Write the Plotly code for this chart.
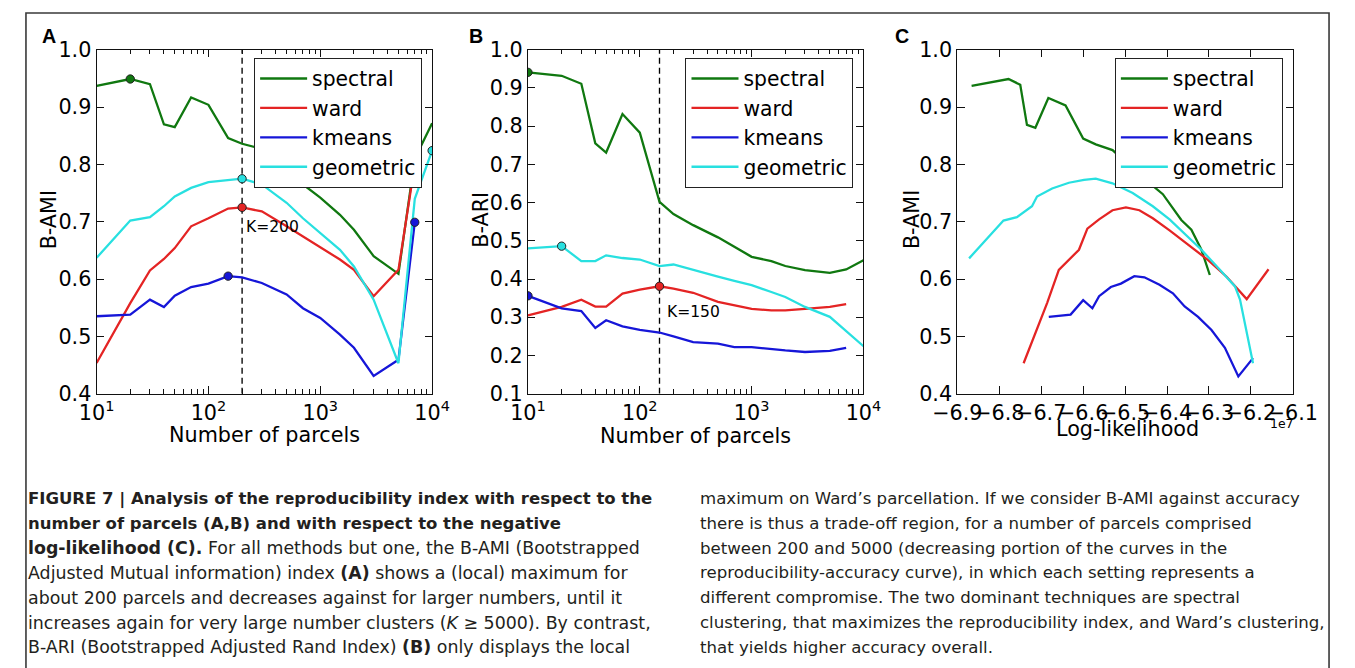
import math
import plotly.graph_objects as go

W, H = 1355, 668

# ---------------- data ----------------
K = [10, 20, 30, 40, 50, 70, 100, 150, 200, 300, 500, 700, 1000, 1500, 2000, 3000, 5000, 7000, 10000]

# Panel A : B-AMI vs number of parcels
A_spectral = [0.937, 0.949, 0.940, 0.870, 0.865, 0.917, 0.904, 0.846, 0.836, 0.827, 0.808, 0.765, 0.742, 0.712, 0.686, 0.640, 0.609, 0.810, 0.872]
A_ward = [0.4535, 0.558, 0.615, 0.635, 0.654, 0.692, 0.706, 0.723, 0.725, 0.718, 0.692, 0.674, 0.656, 0.634, 0.616, 0.570, 0.616, 0.800, None]
A_kmeans = [0.535, 0.538, 0.564, 0.551, 0.571, 0.586, 0.592, 0.605, 0.603, 0.593, 0.573, 0.549, 0.532, 0.503, 0.480, 0.431, 0.459, 0.699, None]
A_geometric = [0.637, 0.702, 0.708, 0.727, 0.744, 0.759, 0.769, 0.773, 0.775, 0.765, 0.733, 0.706, 0.680, 0.651, 0.622, 0.564, 0.453, 0.740, 0.824]

# Panel B : B-ARI vs number of parcels
B_spectral = [0.941, 0.932, 0.911, 0.755, 0.731, 0.832, 0.783, 0.602, 0.570, 0.541, 0.509, 0.484, 0.458, 0.447, 0.434, 0.423, 0.416, 0.425, 0.449]
B_ward = [0.305, 0.327, 0.346, 0.328, 0.328, 0.362, 0.372, 0.381, 0.375, 0.364, 0.340, 0.331, 0.322, 0.318, 0.318, 0.322, 0.327, 0.334, None]
B_kmeans = [0.356, 0.323, 0.316, 0.272, 0.292, 0.276, 0.267, 0.260, 0.250, 0.235, 0.231, 0.222, 0.222, 0.216, 0.213, 0.209, 0.212, 0.220, None]
B_geometric = [0.480, 0.486, 0.447, 0.447, 0.462, 0.455, 0.451, 0.434, 0.438, 0.423, 0.406, 0.395, 0.384, 0.366, 0.353, 0.327, 0.301, None, 0.224]

# highlighted (maximum) points, as numbers of parcels
A_spectral_marks = [20]
A_ward_marks = [200, 7000]
A_kmeans_marks = [150, 7000]
A_geometric_marks = [200, 10000]
B_spectral_marks = [10]
B_ward_marks = [150]
B_kmeans_marks = [10]
B_geometric_marks = [20]

K_LINE_A = 200
K_LINE_B = 150

# Panel C : B-AMI vs log-likelihood (units of 1e7)
C_spectral_x = [-6.866, -6.778, -6.750, -6.734, -6.714, -6.683, -6.642, -6.600, -6.570, -6.530, -6.446, -6.410, -6.366, -6.342, -6.318, -6.298]
C_spectral_y = [0.937, 0.949, 0.939, 0.869, 0.864, 0.916, 0.903, 0.845, 0.835, 0.825, 0.770, 0.748, 0.703, 0.686, 0.651, 0.607]
C_ward_x = [-6.742, -6.686, -6.658, -6.634, -6.610, -6.590, -6.562, -6.530, -6.498, -6.466, -6.434, -6.394, -6.354, -6.302, -6.258, -6.210, -6.158]
C_ward_y = [0.453, 0.558, 0.616, 0.633, 0.651, 0.688, 0.704, 0.720, 0.725, 0.720, 0.706, 0.685, 0.662, 0.633, 0.604, 0.565, 0.617]
C_kmeans_x = [-6.682, -6.630, -6.600, -6.578, -6.562, -6.534, -6.510, -6.478, -6.454, -6.418, -6.386, -6.358, -6.326, -6.294, -6.262, -6.230, -6.195]
C_kmeans_y = [0.534, 0.538, 0.563, 0.549, 0.570, 0.586, 0.592, 0.605, 0.603, 0.590, 0.575, 0.552, 0.534, 0.511, 0.480, 0.430, 0.462]
C_geometric_x = [-6.872, -6.790, -6.758, -6.722, -6.710, -6.674, -6.634, -6.598, -6.570, -6.530, -6.482, -6.434, -6.394, -6.354, -6.318, -6.274, -6.238, -6.226, -6.195]
C_geometric_y = [0.636, 0.702, 0.708, 0.727, 0.744, 0.758, 0.768, 0.773, 0.775, 0.767, 0.750, 0.727, 0.704, 0.677, 0.651, 0.616, 0.587, 0.564, 0.453]

METHODS = ["spectral", "ward", "kmeans", "geometric"]
COLORS = {"spectral": "#107810", "ward": "#e42424", "kmeans": "#1616d8", "geometric": "#28e0e0"}

X_TICKS_LOG = [10, 100, 1000, 10000]
X_TICKTEXT_LOG = ["10<sup>1</sup>", "10<sup>2</sup>", "10<sup>3</sup>", "10<sup>4</sup>"]
X_MINOR_LOG = [m * d for d in (1, 10, 100, 1000) for m in range(2, 10)]
X_TICKS_C = [-6.9, -6.8, -6.7, -6.6, -6.5, -6.4, -6.3, -6.2, -6.1]
Y_TICKS_A = [0.4, 0.5, 0.6, 0.7, 0.8, 0.9, 1.0]
Y_TICKS_B = [0.1, 0.2, 0.3, 0.4, 0.5, 0.6, 0.7, 0.8, 0.9, 1.0]

CAPTION_TITLE = [
    "<b>FIGURE 7 | Analysis of the reproducibility index with respect to the</b>",
    "<b>number of parcels (A,B) and with respect to the negative</b>",
]
CAPTION_LEFT = [
    "<b>log-likelihood (C).</b> For all methods but one, the B-AMI (Bootstrapped",
    "Adjusted Mutual information) index <b>(A)</b> shows a (local) maximum for",
    "about 200 parcels and decreases against for larger numbers, until it",
    "increases again for very large number clusters (<i>K</i> ≥ 5000). By contrast,",
    "B-ARI (Bootstrapped Adjusted Rand Index) <b>(B)</b> only displays the local",
]
CAPTION_RIGHT = [
    "maximum on Ward’s parcellation. If we consider B-AMI against accuracy",
    "there is thus a trade-off region, for a number of parcels comprised",
    "between 200 and 5000 (decreasing portion of the curves in the",
    "reproducibility-accuracy curve), in which each setting represents a",
    "different compromise. The two dominant techniques are spectral",
    "clustering, that maximizes the reproducibility index, and Ward’s clustering,",
    "that yields higher accuracy overall.",
]

# ---------------- placement helpers ----------------
# the photographed page is shrunk slightly and centred; positions below are
# given in target-picture pixels and mapped back to page coordinates.
S = 0.9645
OX, OY = 24.3, 12.2
F = 1 / S


def px(x):
    return (x - OX) / S / W


def py(y):
    return 1 - (y - OY) / S / H


FONT = "DejaVu Sans"
LINE_W = 2.2 * F

fig = go.Figure()

panels = [
    ("x", "y", "legend", {"spectral": A_spectral, "ward": A_ward, "kmeans": A_kmeans, "geometric": A_geometric},
     {"spectral": A_spectral_marks, "ward": A_ward_marks, "kmeans": A_kmeans_marks, "geometric": A_geometric_marks},
     K_LINE_A, (0.4, 1.0)),
    ("x2", "y2", "legend2", {"spectral": B_spectral, "ward": B_ward, "kmeans": B_kmeans, "geometric": B_geometric},
     {"spectral": B_spectral_marks, "ward": B_ward_marks, "kmeans": B_kmeans_marks, "geometric": B_geometric_marks},
     K_LINE_B, (0.1, 1.0)),
]

for xa, ya, leg, series, marks, kline, yr in panels:
    fig.add_trace(go.Scatter(x=[kline, kline], y=[yr[0], yr[1]], mode="lines", xaxis=xa, yaxis=ya,
                             line=dict(color="black", width=1.3 * F, dash="6px,4px"), showlegend=False,
                             hoverinfo="skip"))
    for m in METHODS:
        fig.add_trace(go.Scatter(x=K, y=series[m], mode="lines", name=m, xaxis=xa, yaxis=ya,
                                 line=dict(color=COLORS[m], width=LINE_W), connectgaps=True,
                                 legend=leg, legendgroup=leg + m))
    for m in METHODS:
        mx = marks[m]
        my = [series[m][K.index(k)] for k in mx]
        fig.add_trace(go.Scatter(x=mx, y=my, mode="markers", xaxis=xa, yaxis=ya, showlegend=False,
                                 marker=dict(color=COLORS[m], size=8 * F, line=dict(color="#222", width=1)),
                                 hoverinfo="skip"))

C_series = {"spectral": (C_spectral_x, C_spectral_y), "ward": (C_ward_x, C_ward_y),
            "kmeans": (C_kmeans_x, C_kmeans_y), "geometric": (C_geometric_x, C_geometric_y)}
for m in METHODS:
    cx, cy = C_series[m]
    fig.add_trace(go.Scatter(x=cx, y=cy, mode="lines", name=m, xaxis="x3", yaxis="y3",
                             line=dict(color=COLORS[m], width=LINE_W), legend="legend3",
                             legendgroup="legend3" + m))

axis_common = dict(showline=True, linecolor="#111", linewidth=1.1, mirror="ticks", ticks="inside",
                   ticklen=7 * F, tickwidth=1, tickcolor="#111", showgrid=False, zeroline=False,
                   tickfont=dict(family=FONT, size=20 * F, color="black"), tickangle=0)
minor_log = dict(tickmode="array", tickvals=X_MINOR_LOG, ticks="inside", ticklen=4 * F, tickcolor="#111",
                 showgrid=False)

ydom = [py(394), py(50)]
layout = dict(
    width=W, height=H, margin=dict(l=0, r=0, t=0, b=0),
    paper_bgcolor="white", plot_bgcolor="white",
    xaxis=dict(domain=[px(96), px(432)], anchor="y", type="log", range=[1, 4],
               tickmode="array", tickvals=X_TICKS_LOG, ticktext=X_TICKTEXT_LOG, minor=minor_log, **axis_common),
    yaxis=dict(domain=ydom, anchor="x", range=[0.4, 1.0], tickmode="array", tickvals=Y_TICKS_A,
               tickformat=".1f", **axis_common),
    xaxis2=dict(domain=[px(528), px(864)], anchor="y2", type="log", range=[1, 4],
                tickmode="array", tickvals=X_TICKS_LOG, ticktext=X_TICKTEXT_LOG, minor=minor_log, **axis_common),
    yaxis2=dict(domain=ydom, anchor="x2", range=[0.1, 1.0], tickmode="array", tickvals=Y_TICKS_B,
                tickformat=".1f", **axis_common),
    xaxis3=dict(domain=[px(958), px(1294)], anchor="y3", range=[-6.9, -6.1], tickmode="array",
                tickvals=X_TICKS_C, tickformat=".1f", **axis_common),
    yaxis3=dict(domain=ydom, anchor="x3", range=[0.4, 1.0], tickmode="array", tickvals=Y_TICKS_A,
                tickformat=".1f", **axis_common),
    showlegend=True,
)
leg_common = dict(font=dict(family=FONT, size=19.6 * F, color="black"), bgcolor="white", bordercolor="#222",
                  borderwidth=1, xanchor="right", yanchor="top", traceorder="grouped", tracegroupgap=0,
                  itemwidth=47)
layout["legend"] = dict(x=px(422), y=py(58), **leg_common)
layout["legend2"] = dict(x=px(854), y=py(58), **leg_common)
layout["legend3"] = dict(x=px(1284), y=py(58), **leg_common)
fig.update_layout(**layout)

ann = []
tf = dict(family=FONT, size=20 * F, color="black")
ann.append(dict(text="Number of parcels", x=px(264), y=py(435), font=tf))
ann.append(dict(text="Number of parcels", x=px(696), y=py(436), font=tf))
ann.append(dict(text="Log-likelihood", x=px(1128), y=py(429), font=tf))
ann.append(dict(text="B-AMI", x=px(48), y=py(220), font=tf, textangle=-90))
ann.append(dict(text="B-ARI", x=px(481), y=py(220), font=tf, textangle=-90))
ann.append(dict(text="B-AMI", x=px(912), y=py(220), font=tf, textangle=-90))
ann.append(dict(text="1e7", x=px(1283), y=py(424), font=dict(family=FONT, size=12 * F, color="black")))
for letter, xx in (("A", 48), ("B", 476), ("C", 903)):
    ann.append(dict(text="<b>%s</b>" % letter, x=px(xx), y=py(36),
                    font=dict(family="Liberation Sans", size=19 * F, color="black")))
for a in ann:
    a.update(xref="paper", yref="paper", showarrow=False, xanchor="center", yanchor="middle")

ann.append(dict(text="K=%d" % K_LINE_A, x=math.log10(K_LINE_A), y=0.69, xref="x", yref="y", showarrow=False,
                xanchor="left", yanchor="middle", xshift=2 * F, font=dict(family=FONT, size=15 * F, color="black")))
ann.append(dict(text="K=%d" % K_LINE_B, x=math.log10(K_LINE_B), y=0.314, xref="x2", yref="y2", showarrow=False,
                xanchor="left", yanchor="middle", xshift=5 * F, font=dict(family=FONT, size=15 * F, color="black")))

CAP_COLOR = "#231f20"
LINE_STEP = 24.8
for i, line in enumerate(CAPTION_TITLE):
    ann.append(dict(text=line, x=px(25), y=py(499 + LINE_STEP * i), xref="paper", yref="paper", showarrow=False,
                    xanchor="left", yanchor="middle", font=dict(family=FONT, size=16.5, color=CAP_COLOR)))
for i, line in enumerate(CAPTION_LEFT):
    ann.append(dict(text=line, x=px(25), y=py(499 + LINE_STEP * (i + 2)), xref="paper", yref="paper",
                    showarrow=False, xanchor="left", yanchor="middle",
                    font=dict(family=FONT, size=17.4, color=CAP_COLOR)))
for i, line in enumerate(CAPTION_RIGHT):
    ann.append(dict(text=line, x=px(698), y=py(499 + LINE_STEP * i), xref="paper", yref="paper", showarrow=False,
                    xanchor="left", yanchor="middle", font=dict(family=FONT, size=16.6, color=CAP_COLOR)))
fig.update_layout(annotations=ann)

fig.add_shape(type="rect", xref="paper", yref="paper", x0=1.0 / W, x1=1 - 1.0 / W, y0=-0.1, y1=1 - 1.0 / H,
              line=dict(color="#3a3a3a", width=1.6), fillcolor="rgba(0,0,0,0)", layer="below")

fig.write_html("out.html", config={"displayModeBar": False},
               post_script="document.body.style.margin='0px';document.body.style.overflow='hidden';")
